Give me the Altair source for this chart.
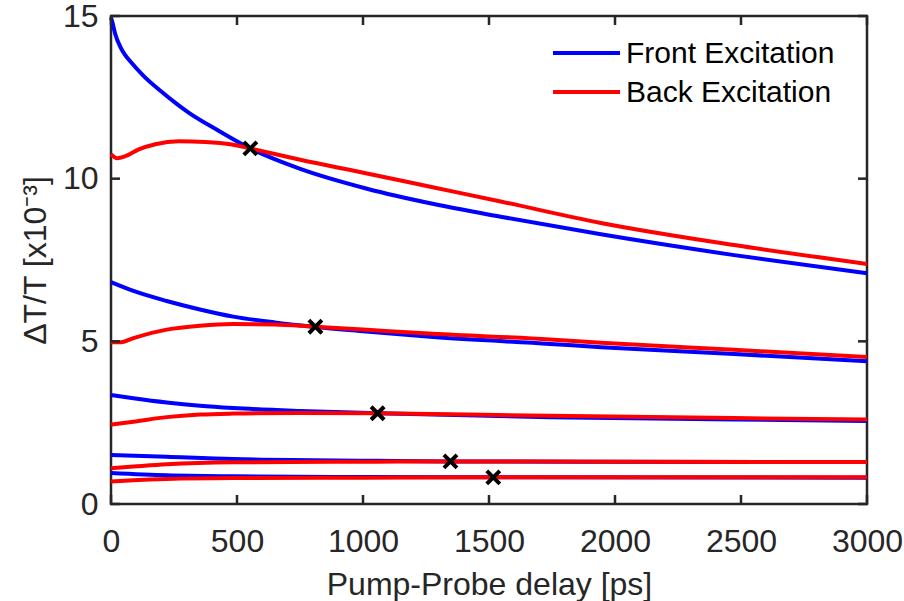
import altair as alt
import pandas as pd

# ---------------- data ----------------
front1_x = [0, 4, 17, 37, 55, 77, 129, 196, 262, 308, 430, 552, 751, 1016, 1281, 1546, 1944, 2473, 3000]
front1_y = [14.95, 14.85, 14.44, 14.05, 13.81, 13.6, 13.16, 12.70, 12.29, 12.03, 11.46, 10.93, 10.30, 9.69, 9.22, 8.83, 8.29, 7.65, 7.09]
back1_x = [0, 24, 57, 110, 176, 269, 374, 480, 552, 751, 1016, 1281, 1546, 1944, 2473, 3000]
back1_y = [10.75, 10.63, 10.69, 10.9, 11.06, 11.15, 11.13, 11.05, 10.93, 10.58, 10.16, 9.73, 9.30, 8.64, 7.96, 7.38]

front2_x = [0, 89, 221, 353, 485, 650, 803, 1000, 1279, 1742, 1944, 2473, 3000]
front2_y = [6.82, 6.55, 6.24, 5.98, 5.76, 5.58, 5.45, 5.31, 5.13, 4.92, 4.82, 4.61, 4.39]
back2_x = [0, 36, 89, 221, 353, 485, 650, 803, 1000, 1279, 1742, 1944, 2473, 3000]
back2_y = [4.97, 4.97, 5.1, 5.36, 5.48, 5.53, 5.52, 5.45, 5.36, 5.23, 5.06, 4.96, 4.74, 4.52]

front3_x = [0, 89, 221, 353, 485, 750, 1058, 1742, 2473, 3000]
front3_y = [3.35, 3.25, 3.12, 3.02, 2.95, 2.86, 2.79, 2.67, 2.6, 2.55]
back3_x = [0, 89, 221, 353, 485, 750, 1058, 1742, 2473, 3000]
back3_y = [2.44, 2.53, 2.67, 2.75, 2.78, 2.80, 2.79, 2.71, 2.64, 2.6]

front4_x = [0, 221, 485, 1054, 1347, 2000, 3000]
front4_y = [1.51, 1.45, 1.38, 1.33, 1.31, 1.30, 1.29]
back4_x = [0, 89, 221, 485, 1054, 1347, 2000, 3000]
back4_y = [1.10, 1.15, 1.22, 1.28, 1.30, 1.31, 1.30, 1.29]

front5_x = [0, 221, 485, 1000, 1517, 3000]
front5_y = [0.95, 0.88, 0.85, 0.83, 0.82, 0.81]
back5_x = [0, 89, 221, 485, 1000, 1517, 3000]
back5_y = [0.69, 0.73, 0.77, 0.80, 0.81, 0.82, 0.82]

cross_x = [553, 811, 1058, 1347, 1517]
cross_y = [10.93, 5.45, 2.79, 1.31, 0.82]

x_ticks = [0, 500, 1000, 1500, 2000, 2500, 3000]
y_ticks = [0, 5, 10, 15]

series_names = ["Front Excitation", "Back Excitation"]
series_colors = ["#0000FF", "#FF0000"]

# ---------------- build tables ----------------
curves = [
    ("f1", series_names[0], front1_x, front1_y),
    ("f2", series_names[0], front2_x, front2_y),
    ("f3", series_names[0], front3_x, front3_y),
    ("f4", series_names[0], front4_x, front4_y),
    ("f5", series_names[0], front5_x, front5_y),
    ("b1", series_names[1], back1_x, back1_y),
    ("b2", series_names[1], back2_x, back2_y),
    ("b3", series_names[1], back3_x, back3_y),
    ("b4", series_names[1], back4_x, back4_y),
    ("b5", series_names[1], back5_x, back5_y),
]
rows = []
for cid, s, xs, ys in curves:
    for xv, yv in zip(xs, ys):
        rows.append({"curve": cid, "series": s, "x": xv, "y": yv})
df = pd.DataFrame(rows)
cross_df = pd.DataFrame({"x": cross_x, "y": cross_y})
xt_df = pd.DataFrame({"v": x_ticks})
yt_df = pd.DataFrame({"v": y_ticks})

W, H = 756, 488
FONT = "Liberation Sans"
AX = "#262626"

xscale = alt.Scale(domain=[0, 3000], nice=False, zero=False)
yscale = alt.Scale(domain=[0, 15], nice=False, zero=False)
cscale = alt.Scale(domain=series_names, range=series_colors)

xaxis = alt.Axis(values=x_ticks, format="d", grid=False, domain=False, tickSize=0, labelFontSize=32,
                 labelFont=FONT, labelColor=AX, labelBaseline="alphabetic", labelPadding=47,
                 title="Pump-Probe delay [ps]", titleFont=FONT, titleFontSize=32,
                 titleFontWeight="normal", titleColor=AX, titleX=W / 2, titleY=90,
                 titleAlign="center", titleBaseline="alphabetic", labelFlush=False)
yaxis = alt.Axis(values=y_ticks, format="d", grid=False, domain=False, tickSize=0, labelFontSize=32,
                 labelFont=FONT, labelColor=AX, labelPadding=13, labelAlign="right",
                 labelBaseline="middle",
                 title="ΔT/T [x10⁻³]", titleFont=FONT, titleFontSize=32,
                 titleFontWeight="normal", titleColor=AX, titleX=-76, titleY=H / 2,
                 titleAngle=270, titleAlign="center", titleBaseline="middle", labelFlush=False)

front_lines = alt.Chart(df).transform_filter(alt.datum.series == series_names[0]).mark_line(
    strokeWidth=4, interpolate="monotone").encode(
    x=alt.X("x:Q", scale=xscale, axis=xaxis),
    y=alt.Y("y:Q", scale=yscale, axis=yaxis),
    color=alt.Color("series:N", scale=cscale, legend=None),
    detail="curve:N",
)
back_lines = alt.Chart(df).transform_filter(alt.datum.series == series_names[1]).mark_line(
    strokeWidth=4, interpolate="monotone").encode(
    x=alt.X("x:Q", scale=xscale),
    y=alt.Y("y:Q", scale=yscale),
    color=alt.Color("series:N", scale=cscale, legend=None),
    detail="curve:N",
)
crosses = alt.Chart(cross_df).mark_point(
    shape="M-1,-1L1,1M-1,1L1,-1", size=170, stroke="black", strokeWidth=4,
    filled=False, opacity=1).encode(
    x=alt.X("x:Q", scale=xscale), y=alt.Y("y:Q", scale=yscale))

TL = 9
tick_bottom = alt.Chart(xt_df).mark_rule(color=AX, strokeWidth=2.5).encode(
    x=alt.X("v:Q", scale=xscale), y=alt.value(H), y2=alt.value(H - TL))
tick_top = alt.Chart(xt_df).mark_rule(color=AX, strokeWidth=2.5).encode(
    x=alt.X("v:Q", scale=xscale), y=alt.value(0), y2=alt.value(TL))
tick_left = alt.Chart(yt_df).mark_rule(color=AX, strokeWidth=2.5).encode(
    y=alt.Y("v:Q", scale=yscale), x=alt.value(0), x2=alt.value(TL))
tick_right = alt.Chart(yt_df).mark_rule(color=AX, strokeWidth=2.5).encode(
    y=alt.Y("v:Q", scale=yscale), x=alt.value(W - TL), x2=alt.value(W))

# manual legend (MATLAB style, no box)
leg_layers = []
leg_rows_y = [37, 76]
for name, col, ly in zip(series_names, series_colors, leg_rows_y):
    ldf = pd.DataFrame({"label": [name]})
    leg_layers.append(alt.Chart(ldf).mark_rule(color=col, strokeWidth=4).encode(
        x=alt.value(442), x2=alt.value(509), y=alt.value(ly)))
    leg_layers.append(alt.Chart(ldf).mark_text(
        align="left", baseline="middle", font=FONT, fontSize=30, color="black").encode(
        x=alt.value(515), y=alt.value(ly + 1), text="label:N"))

chart = alt.layer(
    front_lines, back_lines, crosses,
    tick_bottom, tick_top, tick_left, tick_right,
    *leg_layers,
).properties(
    width=W, height=H,
    autosize=alt.AutoSizeParams(type="none"),
    padding={"left": 111, "top": 16, "right": 37, "bottom": 97},
    background="white",
).configure_view(
    stroke=AX, strokeWidth=2.5
)

chart.save("out.html", embed_options={"renderer": "svg", "actions": False})
